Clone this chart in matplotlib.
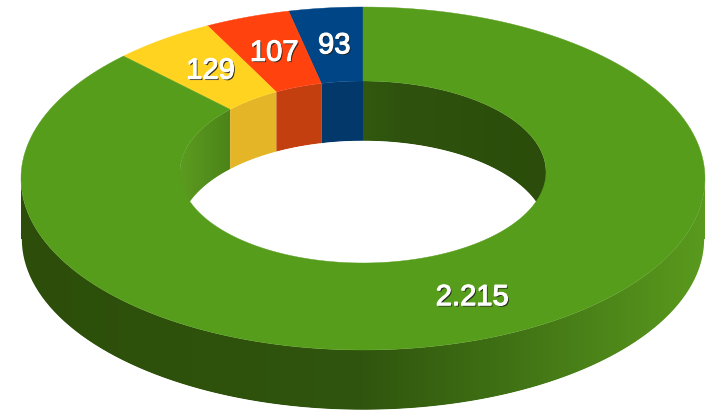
#!/usr/bin/env python3
# -*- coding: utf-8 -*-

import numpy as np
import matplotlib
matplotlib.use('Agg')
import matplotlib.pyplot as plt
import matplotlib.patheffects as pe
from matplotlib.colors import to_rgb
from matplotlib.patches import Polygon

# slices, counter-clockwise from 12 o'clock
values = [93, 107, 129, 2215]
labels = ['93', '107', '129', '2.215']
top_colors = ['#004586', '#ff420e', '#ffd320', '#579d1c']
wall_colors = ['#03386b', '#c43f10', '#e3b527']

# ring geometry in pixels
CX = 363
OUT_CY, OUT_RX, OUT_RY = 178.5, 342, 171.5
IN_CY, IN_RX, IN_RY = 172, 183, 91
DEPTH = 60
SKEW = 0.955  # perspective pulls the far outer edge towards the middle

plt.rcParams['font.family'] = ['Liberation Sans', 'DejaVu Sans']


def arc(cy, rx, ry, a0, a1, n=200):
    a = np.radians(np.linspace(a0, a1, n))
    return CX - rx * np.sin(a), cy - ry * np.cos(a)


def wall_shape(cy, rx, ry, a0, a1):
    x, y = arc(cy, rx, ry, a0, a1)
    return np.r_[x, x[::-1]], np.r_[y, y[::-1] + DEPTH]


def gradient_wall(ax, cy, rx, ry, a0, a1, stops):
    # horizontal gradient clipped to the wall outline
    x, y = wall_shape(cy, rx, ry, a0, a1)
    xs = np.linspace(x.min() - 2, x.max() + 2, 400)
    rgb = np.array([to_rgb(s[1]) for s in stops])
    pos = [s[0] for s in stops]
    row = np.stack([np.interp(xs, pos, rgb[:, i]) for i in range(3)], axis=-1)
    im = ax.imshow(row[None, :, :], aspect='auto', interpolation='bilinear',
                   extent=(xs[0], xs[-1], y.max() + 2, y.min() - 2), zorder=1)
    im.set_clip_path(Polygon(np.c_[x, y], transform=ax.transData))


fig = plt.figure(figsize=(7.14, 4.12), dpi=100)
ax = fig.add_axes([0, 0, 1, 1])
ax.axis('off')

angles = np.r_[0, np.cumsum(values)] / sum(values) * 360
out_angles = np.r_[angles[:-1] * SKEW, 360]

inner_stops = [(180, '#5c9b20'), (232, '#4a8318'), (363, '#32590f'),
               (400, '#2f530e'), (546, '#2b4c0a')]
outer_stops = [(21, '#2c4e0a'), (363, '#30550e'), (500, '#3f7014'), (705, '#5a9a1e')]

# inner wall, only the far half shows
gradient_wall(ax, IN_CY, IN_RX, IN_RY, angles[3], 90, inner_stops)
gradient_wall(ax, IN_CY, IN_RX, IN_RY, 270, 360, inner_stops)
for i, c in enumerate(wall_colors):
    x, y = wall_shape(IN_CY, IN_RX, IN_RY, angles[i], angles[i + 1])
    ax.fill(x, y, color=c, lw=0, zorder=1)

# outer wall, near half
gradient_wall(ax, OUT_CY, OUT_RX, OUT_RY, 90, 270, outer_stops)

# white strokes smooth the clipped edges of the hole and the outer rim
x, y = arc(IN_CY + DEPTH, IN_RX, IN_RY, -90, 90)
ax.plot(x, y + 0.6, color='white', lw=1.2, solid_capstyle='butt', zorder=2)
x, y = arc(OUT_CY + DEPTH, OUT_RX, OUT_RY, 90, 270)
ax.plot(x, y + 0.6, color='white', lw=1.2, solid_capstyle='butt', zorder=2)

# top faces
for i, c in enumerate(top_colors):
    xo, yo = arc(OUT_CY, OUT_RX, OUT_RY, out_angles[i], out_angles[i + 1])
    xi, yi = arc(IN_CY, IN_RX, IN_RY, angles[i + 1], angles[i])
    ax.fill(np.r_[xo, xi], np.r_[yo, yi], color=c, lw=0.3, zorder=3)

# labels sit on the middle of each slice
effects = [pe.withSimplePatchShadow(offset=(1, -1), shadow_rgbFace='#222222', alpha=0.9),
           pe.Stroke(linewidth=0.8, foreground='white'), pe.Normal()]
shift = {'2.215': (10, 9)}
for i, lab in enumerate(labels):
    mid = np.radians((angles[i] + angles[i + 1]) / 2)
    dx, dy = shift.get(lab, (0, 0))
    ax.text(CX - 251 * np.sin(mid) + dx, 171.5 - 127 * np.cos(mid) + dy, lab,
            color='white', fontsize=21, ha='center', va='center',
            path_effects=effects, zorder=4)

ax.set_xlim(0, 714)
ax.set_ylim(412, 0)
fig.savefig('out.png', dpi=100)
